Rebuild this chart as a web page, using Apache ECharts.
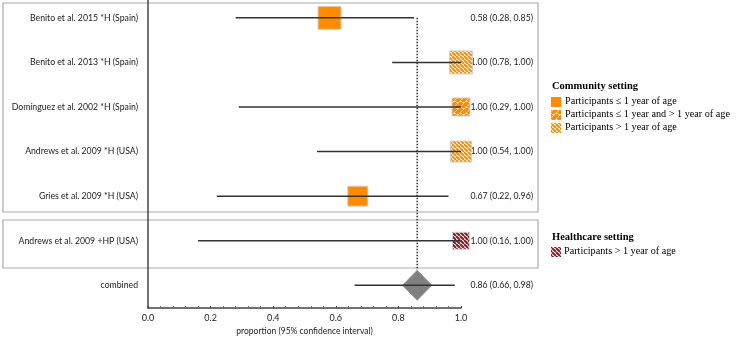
<!DOCTYPE html>
<html>
<head>
<meta charset="utf-8">
<script src="https://cdn.jsdelivr.net/npm/echarts@6/dist/echarts.min.js"></script>
<style>
  html, body { margin: 0; padding: 0; background: #fff; }
  #chart { width: 737px; height: 341px; }
</style>
</head>
<body>
<div id="chart"></div>
<script>
// study rows, top to bottom
const studies = [
  'Benito et al. 2015 *H (Spain)',
  'Benito et al. 2013 *H (Spain)',
  'Domínguez et al. 2002 *H (Spain)',
  'Andrews et al. 2009 *H (USA)',
  'Gries et al. 2009 *H (USA)',
  'Andrews et al. 2009 +HP (USA)',
  'combined'
];
const estimate = [0.58, 1.00, 1.00, 1.00, 0.67, 1.00, 0.86];
const lower    = [0.28, 0.78, 0.29, 0.54, 0.22, 0.16, 0.66];
const upper    = [0.85, 1.00, 1.00, 1.00, 0.96, 1.00, 0.98];
// study weight shown as box size (px); last row is the pooled diamond
const boxSize  = [23, 23, 18, 21, 20, 17, 0];
const fillType = ['solid', 'back', 'fwd', 'back', 'solid', 'hp', 'diamond'];
const diamondHalf = 0.047;
const xTicks = [0, 0.2, 0.4, 0.6, 0.8, 1.0];

const ORANGE = '#ff8c00';

function hatch(fg, bg, dir, p, w) {
  const c = document.createElement('canvas');
  c.width = p; c.height = p;
  const g = c.getContext('2d');
  g.fillStyle = bg; g.fillRect(0, 0, p, p);
  g.strokeStyle = fg; g.lineWidth = w;
  for (let k = -1; k <= 1; k++) {
    g.beginPath();
    if (dir === 'back') { g.moveTo(k * p, 0); g.lineTo(k * p + p, p); }
    else { g.moveTo(k * p, p); g.lineTo(k * p + p, 0); }
    g.stroke();
  }
  return { image: c, repeat: 'repeat' };
}

const fills = {
  solid: ORANGE,
  back: hatch(ORANGE, '#fff', 'back', 4, 2),
  fwd: hatch(ORANGE, '#fff', 'fwd', 6, 4),
  hp: hatch('#8b1a1a', '#fff', 'back', 4, 2)
};

const rows = studies.map((s, i) => [estimate[i], lower[i], upper[i], i, boxSize[i]]);

const plotFont = 'Lato';
const legendFont = '"Liberation Serif"';
const lgFont = '10.2px ' + legendFont;

const myChart = echarts.init(document.getElementById('chart'));

const option = {
  animation: false,
  grid: { left: 148, right: 276, top: 0, bottom: 30 },
  xAxis: {
    type: 'value', min: 0, max: 1, interval: 0.2,
    name: 'proportion (95% confidence interval)',
    nameLocation: 'middle', nameGap: 18,
    nameTextStyle: { fontFamily: plotFont, fontSize: 8.5, color: '#222' },
    axisLine: { onZero: false, lineStyle: { color: '#444', width: 1.5 } },
    axisTick: { inside: true, length: 2, lineStyle: { color: '#444' } },
    minorTick: { show: true, splitNumber: 5, length: 2, lineStyle: { color: '#666' } },
    splitLine: { show: false },
    axisLabel: {
      fontFamily: plotFont, fontSize: 9, color: '#222', margin: 5,
      formatter: v => xTicks.some(t => Math.abs(t - v) < 1e-6) ? v.toFixed(1) : ''
    }
  },
  yAxis: {
    type: 'value', min: -0.4, max: 6.511, inverse: true,
    axisLine: { show: true, onZero: false, lineStyle: { color: '#444', width: 1.5 } },
    axisTick: { show: false }, axisLabel: { show: false }, splitLine: { show: false }
  },
  graphic: [
    { type: 'rect', z: 0, shape: { x: 3, y: 3, width: 535, height: 209 },
      style: { fill: null, stroke: '#aaa', lineWidth: 1.2 } },
    { type: 'rect', z: 0, shape: { x: 3, y: 220, width: 535, height: 48 },
      style: { fill: null, stroke: '#aaa', lineWidth: 1.2 } },
    { type: 'text', left: 552, top: 81, style: { text: 'Community setting', font: 'bold 10.5px ' + legendFont, fill: '#000' } },
    { type: 'rect', shape: { x: 551, y: 97, width: 10, height: 10 }, style: { fill: fills.solid } },
    { type: 'text', left: 565, top: 96, style: { text: 'Participants ≤ 1 year of age', font: lgFont, fill: '#000' } },
    { type: 'rect', shape: { x: 551, y: 110, width: 10, height: 10 }, style: { fill: fills.fwd } },
    { type: 'text', left: 565, top: 109, style: { text: 'Participants ≤ 1 year and > 1 year of age', font: lgFont, fill: '#000' } },
    { type: 'rect', shape: { x: 551, y: 123, width: 10, height: 10 }, style: { fill: fills.back } },
    { type: 'text', left: 565, top: 122, style: { text: 'Participants > 1 year of age', font: lgFont, fill: '#000' } },
    { type: 'text', left: 552, top: 232, style: { text: 'Healthcare setting', font: 'bold 10.5px ' + legendFont, fill: '#000' } },
    { type: 'rect', shape: { x: 551, y: 247, width: 10, height: 10 }, style: { fill: fills.hp } },
    { type: 'text', left: 564, top: 246, style: { text: 'Participants > 1 year of age', font: lgFont, fill: '#000' } }
  ],
  series: [
    {
      // study names and estimate text
      type: 'custom', z: 1, data: rows, encode: { x: 0, y: 3 },
      renderItem: function (params, api) {
        const i = api.value(3);
        const y = api.coord([0, i])[1];
        const cs = params.coordSys;
        const txt = estimate[i].toFixed(2) + ' (' + lower[i].toFixed(2) + ', ' + upper[i].toFixed(2) + ')';
        return {
          type: 'group',
          children: [
            { type: 'text', style: { x: cs.x - 10, y: y, text: studies[i], align: 'right', verticalAlign: 'middle',
                font: '8.7px ' + plotFont, fill: '#222' } },
            { type: 'text', style: { x: cs.x + cs.width + 72, y: y, text: txt, align: 'right', verticalAlign: 'middle',
                font: '8.7px ' + plotFont, fill: '#222' } }
          ]
        };
      }
    },
    {
      // reference line at pooled estimate
      type: 'custom', z: 2, data: [rows[6]], encode: { x: 0, y: 3 },
      renderItem: function (params, api) {
        const top = api.coord([api.value(0), 0]);
        const bot = api.coord([api.value(0), api.value(3)]);
        return { type: 'line', shape: { x1: top[0], y1: top[1], x2: bot[0], y2: bot[1] - 15 },
          style: { stroke: '#333', lineWidth: 1.5, lineDash: [1.5, 1.5] } };
      }
    },
    {
      // boxes and diamond
      type: 'custom', z: 3, data: rows, encode: { x: 0, y: 3 },
      renderItem: function (params, api) {
        const i = api.value(3);
        const c = api.coord([api.value(0), i]);
        if (fillType[i] === 'diamond') {
          const l = api.coord([api.value(0) - diamondHalf, i])[0];
          const r = api.coord([api.value(0) + diamondHalf, i])[0];
          return { type: 'polygon', shape: { points: [[l, c[1]], [c[0], c[1] - 15], [r, c[1]], [c[0], c[1] + 15]] },
            style: { fill: '#7f7f7f', stroke: '#9a9a9a', lineWidth: 1 } };
        }
        const s = api.value(4);
        return { type: 'rect', shape: { x: c[0] - s / 2, y: c[1] - s / 2, width: s, height: s },
          style: { fill: fills[fillType[i]], stroke: '#d0d0d0', lineWidth: 1 } };
      }
    },
    {
      // confidence intervals
      type: 'custom', z: 4, data: rows, encode: { x: [1, 2], y: 3 },
      renderItem: function (params, api) {
        const a = api.coord([api.value(1), api.value(3)]);
        const b = api.coord([api.value(2), api.value(3)]);
        return { type: 'line', shape: { x1: a[0], y1: a[1], x2: b[0], y2: b[1] },
          style: { stroke: '#333', lineWidth: 1.5 } };
      }
    }
  ]
};

myChart.setOption(option);
</script>
</body>
</html>
